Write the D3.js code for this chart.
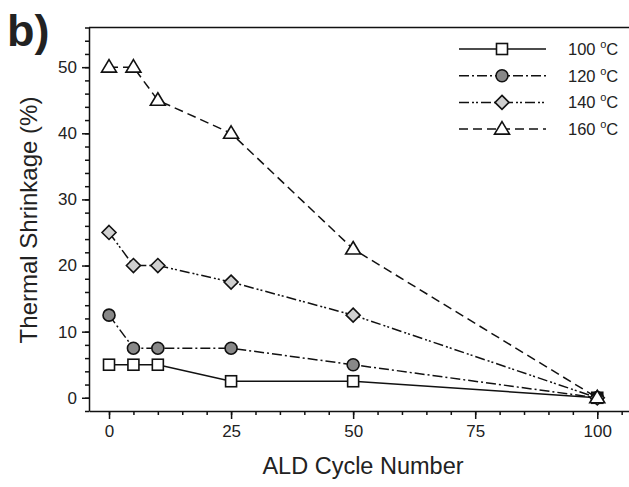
<!DOCTYPE html>
<html><head><meta charset="utf-8">
<script src="https://cdn.jsdelivr.net/npm/d3@7"></script>
<style>body{margin:0;background:#fff}svg{display:block}text{font-family:"Liberation Sans",Arial,sans-serif;fill:#222}</style>
</head><body><svg id="c" width="629" height="487"></svg>
<script>
const cycles = [0, 5, 10, 25, 50, 100];
const s100 = [5, 5, 5, 2.5, 2.5, 0];
const s120 = [12.5, 7.5, 7.5, 7.5, 5, 0];
const s140 = [25, 20, 20, 17.5, 12.5, 0];
const s160 = [50, 50, 45, 40, 22.5, 0];
const seriesNames = ["100", "120", "140", "160"];
const xTicks = [0, 25, 50, 75, 100];
const yTicks = [0, 10, 20, 30, 40, 50];

const svg = d3.select("#c");
const x = d3.scaleLinear().domain([-4.1, 106.5]).range([89, 629]);
const y = d3.scaleLinear().domain([-2, 56]).range([411, 27.5]);

const series = [
  {name: seriesNames[0], vals: s100, dash: null, marker: "square", fill: "#fff"},
  {name: seriesNames[1], vals: s120, dash: "10,3,2,3", marker: "circle", fill: "#888"},
  {name: seriesNames[2], vals: s140, dash: "10,3,2,2,2,3", marker: "diamond", fill: "#d0d0d0"},
  {name: seriesNames[3], vals: s160, dash: "9,5", marker: "triangle", fill: "#fff"}
];

const xMinor = d3.range(0, 106, 5);
const xAxis = d3.axisBottom(x).tickValues(xMinor).tickSize(4).tickFormat("").tickSizeOuter(0);
svg.append("g").attr("transform", "translate(0,411)").call(xAxis)
  .call(g => g.selectAll("line,path").attr("stroke", "#111").attr("stroke-width", 1.5));
const xMaj = d3.axisBottom(x).tickValues(xTicks).tickSize(8).tickSizeOuter(0).tickPadding(6);
svg.append("g").attr("transform", "translate(0,411)").call(xMaj)
  .call(g => { g.select(".domain").remove(); g.selectAll("line").attr("stroke", "#111").attr("stroke-width", 1.5);
    g.selectAll("text").attr("font-size", 17).attr("fill", "#222").attr("font-family", "Liberation Sans, Arial"); });

const yMinor = d3.range(-2, 57, 2);
const yAxis = d3.axisLeft(y).tickValues(yMinor).tickSize(4).tickFormat("").tickSizeOuter(0);
svg.append("g").attr("transform", "translate(89,0)").call(yAxis)
  .call(g => g.selectAll("line,path").attr("stroke", "#111").attr("stroke-width", 1.5));
const yMaj = d3.axisLeft(y).tickValues(yTicks).tickSize(7).tickSizeOuter(0).tickPadding(5);
svg.append("g").attr("transform", "translate(89,0)").call(yMaj)
  .call(g => { g.select(".domain").remove(); g.selectAll("line").attr("stroke", "#111").attr("stroke-width", 1.5);
    g.selectAll("text").attr("font-size", 17).attr("fill", "#222").attr("font-family", "Liberation Sans, Arial"); });

svg.append("line").attr("x1", 89).attr("x2", 629).attr("y1", y(56)).attr("y2", y(56)).attr("stroke", "#111").attr("stroke-width", 1.5);

const line = d3.line().x((d, i) => x(cycles[i])).y(d => y(d));

function marker(g, type, fill, cx, cy) {
  if (type === "square") g.append("rect").attr("x", cx - 5.5).attr("y", cy - 5.5).attr("width", 11).attr("height", 11);
  else if (type === "circle") g.append("circle").attr("cx", cx).attr("cy", cy).attr("r", 6);
  else if (type === "diamond") g.append("path").attr("d", `M${cx},${cy-7}L${cx+7},${cy}L${cx},${cy+7}L${cx-7},${cy}Z`);
  else g.append("path").attr("d", `M${cx},${cy-7.5}L${cx+7.5},${cy+5}L${cx-7.5},${cy+5}Z`);
  g.selectAll("*").attr("fill", fill).attr("stroke", "#111").attr("stroke-width", 1.6);
}

series.forEach(s => {
  svg.append("path").datum(s.vals).attr("d", line).attr("fill", "none").attr("stroke", "#111")
    .attr("stroke-width", 1.5).attr("stroke-dasharray", s.dash);
});
series.forEach(s => {
  s.vals.forEach((v, i) => { const g = svg.append("g"); marker(g, s.marker, s.fill, x(cycles[i]), y(v)); });
});

series.forEach((s, i) => {
  const ly = 49 + i * 26.7;
  svg.append("line").attr("x1", 459).attr("x2", 546).attr("y1", ly).attr("y2", ly)
    .attr("stroke", "#111").attr("stroke-width", 1.5).attr("stroke-dasharray", s.dash);
  const g = svg.append("g"); marker(g, s.marker, s.fill, 502, ly);
  const t = svg.append("text").attr("x", 568).attr("y", ly + 6).attr("font-size", 16.5);
  t.append("tspan").text(s.name + " ");
  t.append("tspan").attr("font-size", 11).attr("dy", -7).text("o");
  t.append("tspan").attr("dy", 7).text("C");
});

svg.append("text").attr("x", 363).attr("y", 474).attr("text-anchor", "middle").attr("font-size", 23.5).text("ALD Cycle Number");
svg.append("text").attr("transform", "translate(37,220) rotate(-90)").attr("text-anchor", "middle").attr("font-size", 24).text("Thermal Shrinkage (%)");
svg.append("text").attr("x", 7).attr("y", 46).attr("font-size", 45).attr("font-weight", "bold").attr("fill", "#111").text("b)");
</script></body></html>
